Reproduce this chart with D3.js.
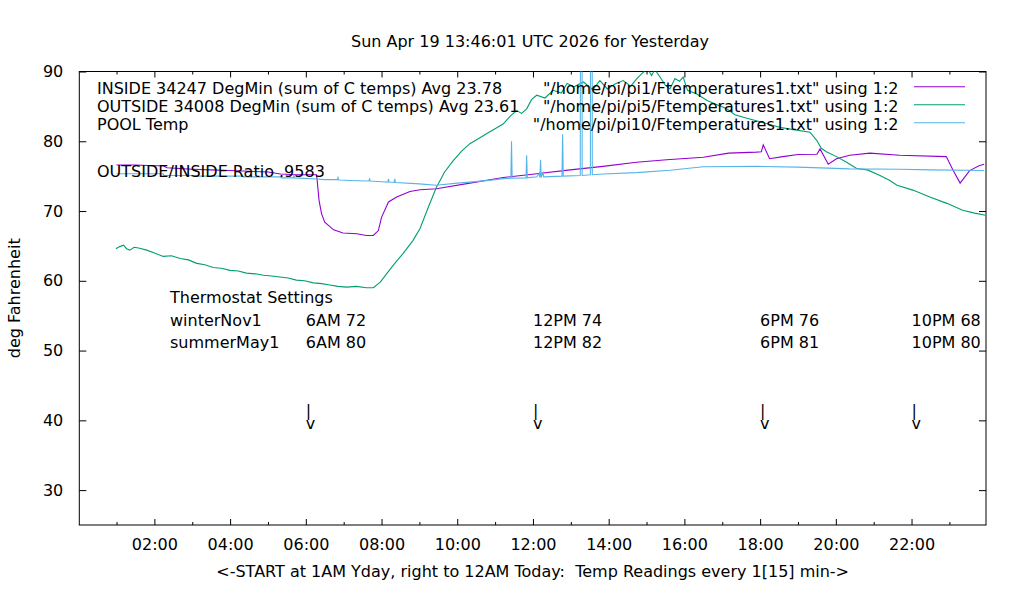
<!DOCTYPE html>
<html>
<head>
<meta charset="utf-8">
<script src="https://cdn.jsdelivr.net/npm/d3@7"></script>
<style>
  body { margin: 0; background: #fff; }
  svg { font-family: "DejaVu Sans", sans-serif; font-size: 16px; }
  text { white-space: pre; }
</style>
</head>
<body>
<svg width="1020" height="600"></svg>
<script>
// readings, [time of day, deg F]
const inside = [
  ["01:00", 76.6], ["01:30", 76.6], ["02:00", 76.5], ["02:14", 76.5], ["02:20", 76.2], ["03:00", 76.0],
  ["03:30", 75.9], ["04:00", 75.8], ["04:30", 75.7], ["05:00", 75.6], ["05:20", 75.3], ["05:45", 75.2],
  ["06:17", 75.2], ["06:18", 74.4], ["06:21", 71.5], ["06:25", 69.6], ["06:30", 68.4], ["06:44", 67.3],
  ["06:59", 66.85], ["07:21", 66.75], ["07:36", 66.5], ["07:47", 66.5], ["07:55", 67.2], ["08:00", 69.1],
  ["08:11", 71.3], ["08:24", 72.0], ["08:45", 72.8], ["09:01", 73.05], ["09:27", 73.2], ["10:20", 74.0],
  ["11:13", 74.8], ["12:06", 75.35], ["12:59", 75.9], ["13:51", 76.4], ["14:44", 77.0], ["15:32", 77.35],
  ["16:30", 77.7], ["17:10", 78.3], ["17:54", 78.45], ["18:02", 78.5], ["18:05", 79.5], ["18:15", 77.5],
  ["18:36", 77.8], ["19:00", 78.1], ["19:30", 78.15], ["19:35", 78.9], ["19:48", 76.7], ["20:01", 77.5],
  ["20:22", 78.0], ["20:54", 78.3], ["21:41", 78.0], ["22:55", 77.8], ["23:06", 75.8], ["23:17", 74.0],
  ["23:32", 75.8], ["23:47", 76.5], ["23:55", 76.7]
];

const outside = [
  ["00:59", 64.6], ["01:05", 64.9], ["01:11", 65.1], ["01:16", 64.6], ["01:21", 64.4], ["01:28", 64.8],
  ["01:35", 64.7], ["01:48", 64.4], ["02:00", 64.0], ["02:14", 63.5], ["02:27", 63.6], ["02:41", 63.2],
  ["02:54", 63.0], ["03:07", 62.5], ["03:20", 62.3], ["03:33", 61.9], ["03:46", 61.8], ["04:00", 61.5],
  ["04:13", 61.4], ["04:26", 61.1], ["04:40", 61.0], ["04:53", 60.8], ["05:06", 60.7], ["05:19", 60.55],
  ["05:32", 60.4], ["05:45", 60.1], ["05:58", 60.0], ["06:12", 59.7], ["06:25", 59.6], ["06:38", 59.4],
  ["06:51", 59.2], ["07:05", 59.1], ["07:20", 59.2], ["07:36", 59.0], ["07:47", 59.0], ["07:58", 59.8],
  ["08:08", 61.0], ["08:20", 62.4], ["08:34", 63.9], ["08:50", 65.8], ["09:01", 67.5], ["09:14", 70.5],
  ["09:27", 73.4], ["09:40", 75.6], ["09:54", 77.25], ["10:07", 78.6], ["10:20", 79.65], ["10:34", 80.4],
  ["10:47", 81.1], ["11:00", 81.8], ["11:13", 82.5], ["11:24", 83.6], ["11:34", 84.4], ["11:42", 84.0],
  ["11:50", 84.65], ["11:58", 86.0], ["12:06", 86.6], ["12:19", 86.2], ["12:32", 87.3], ["12:45", 86.9],
  ["12:54", 88.3], ["13:05", 87.8], ["13:20", 88.5], ["13:35", 87.4], ["13:46", 88.7], ["13:58", 87.5],
  ["14:10", 88.2], ["14:23", 88.7], ["14:35", 87.9], ["14:45", 89.0], ["14:55", 89.9], ["15:02", 90.4],
  ["15:08", 89.4], ["15:13", 90.3], ["15:20", 89.4], ["15:30", 88.0], ["15:37", 87.5], ["15:45", 89.0],
  ["15:52", 88.6], ["15:58", 89.2], ["16:05", 87.3], ["16:19", 86.8], ["16:36", 85.85], ["16:50", 85.3],
  ["17:07", 84.65], ["17:20", 83.8], ["17:39", 83.3], ["18:00", 82.8], ["18:31", 82.0], ["18:50", 81.7],
  ["19:19", 81.3], ["19:30", 80.1], ["19:37", 79.0], ["19:45", 78.5], ["20:01", 77.8], ["20:17", 77.0],
  ["20:33", 76.1], ["20:50", 75.9], ["21:10", 75.1], ["21:25", 74.4], ["21:37", 73.7], ["22:02", 73.0],
  ["22:29", 72.0], ["22:56", 71.1], ["23:21", 70.1], ["23:40", 69.7], ["23:57", 69.4]
];

const pool = [
  ["01:00", 75.35], ["02:14", 75.35], ["02:15", 75.1], ["03:10", 75.1], ["03:11", 75.0], ["04:20", 75.0],
  ["04:21", 74.9], ["05:20", 74.9], ["05:21", 74.75], ["05:40", 74.75], ["05:41", 75.1], ["05:42", 74.75],
  ["06:18", 74.6], ["06:30", 74.5], ["06:50", 74.5], ["06:51", 74.8], ["06:52", 74.45], ["07:20", 74.35],
  ["07:40", 74.3], ["07:41", 74.7], ["07:42", 74.3], ["08:00", 74.2], ["08:10", 74.15], ["08:11", 74.6],
  ["08:12", 74.15], ["08:20", 74.1], ["08:21", 74.6], ["08:22", 74.1], ["09:00", 73.9], ["09:27", 73.7],
  ["10:00", 74.0], ["10:20", 74.15], ["10:50", 74.4], ["11:13", 74.65], ["11:25", 74.7], ["11:26", 80.0],
  ["11:27", 74.7], ["11:49", 74.75], ["11:50", 78.0], ["11:51", 74.75], ["12:06", 74.9], ["12:10", 75.4],
  ["12:11", 74.8], ["12:12", 77.35], ["12:13", 74.8], ["12:16", 75.5], ["12:17", 74.9], ["12:46", 75.0],
  ["12:47", 81.0], ["12:48", 75.0], ["13:15", 75.1], ["13:16", 185], ["13:17", 185], ["13:18", 75.1],
  ["13:31", 75.2], ["13:32", 185], ["13:33", 185], ["13:34", 75.2], ["13:51", 75.3], ["14:44", 75.5],
  ["15:37", 75.85], ["16:30", 76.35], ["17:54", 76.4], ["19:00", 76.3], ["20:22", 76.05], ["21:41", 76.0],
  ["22:30", 75.9], ["23:55", 75.8]
];

const seriesNames = [
  "\"/home/pi/pi1/Ftemperatures1.txt\" using 1:2",
  "\"/home/pi/pi5/Ftemperatures1.txt\" using 1:2",
  "\"/home/pi/pi10/Ftemperatures1.txt\" using 1:2"
];
const seriesColors = ["#9400d3", "#009e73", "#56b4e9"];
const noteLines = [
  "INSIDE 34247 DegMin (sum of C temps) Avg 23.78",
  "OUTSIDE 34008 DegMin (sum of C temps) Avg 23.61",
  "POOL Temp"
];
const ratioNote = "OUTSIDE/INSIDE Ratio .9583";

const yTicks = [30, 40, 50, 60, 70, 80, 90];
const setTimes = ["06:00", "12:00", "18:00", "22:00"];
const winterSet = ["6AM 72", "12PM 74", "6PM 76", "10PM 68"];
const summerSet = ["6AM 80", "12PM 82", "6PM 81", "10PM 80"];

const title = "Sun Apr 19 13:46:01 UTC 2026 for Yesterday";
const xLabel = "<-START at 1AM Yday, right to 12AM Today:  Temp Readings every 1[15] min->";
const yLabel = "deg Fahrenheit";

const svg = d3.select("svg");
const margin = { top: 71.5, left: 79.3, right: 34, bottom: 75 };
const innerWidth = 1020 - margin.left - margin.right;
const innerHeight = 600 - margin.top - margin.bottom;

const parseTime = d3.utcParse("%Y-%m-%d %H:%M");
const t = s => parseTime("2026-04-18 " + s);

const x = d3.scaleUtc()
  .domain([t("00:01"), t("23:58")])
  .range([0, innerWidth]);
const y = d3.scaleLinear()
  .domain([25, 90])
  .range([innerHeight, 0]);

const g = svg.append("g")
  .attr("transform", `translate(${margin.left},${margin.top})`);

g.append("clipPath").attr("id", "plot-clip")
  .append("rect")
  .attr("width", innerWidth)
  .attr("height", innerHeight);

// axes, ticks pointing inward and mirrored on top/right
const majorHours = d3.utcHour.every(2).range(t("01:00"), t("23:58"));
const oddHours = d3.utcHours(t("00:01"), t("23:58")).filter(d => d.getUTCHours() % 2 === 1);

g.append("g")
  .attr("transform", `translate(0,${innerHeight})`)
  .call(d3.axisBottom(x).tickValues(majorHours).tickSize(-6).tickPadding(14).tickFormat(d3.utcFormat("%H:%M")));
g.append("g")
  .attr("transform", `translate(0,${innerHeight})`)
  .call(d3.axisBottom(x).tickValues(oddHours).tickSize(-3).tickFormat(""));
g.append("g")
  .call(d3.axisTop(x).tickValues(majorHours).tickSize(-6).tickFormat(""));
g.append("g")
  .call(d3.axisTop(x).tickValues(oddHours).tickSize(-3).tickFormat(""));
g.append("g")
  .call(d3.axisLeft(y).tickValues(yTicks).tickSize(-7).tickPadding(16));
g.append("g")
  .attr("transform", `translate(${innerWidth},0)`)
  .call(d3.axisRight(y).tickValues(yTicks).tickSize(-7).tickFormat(""));

g.selectAll(".domain").remove();
g.selectAll(".tick line").attr("stroke", "#000");
g.selectAll(".tick text")
  .attr("fill", "#000")
  .style("font-family", "DejaVu Sans")
  .style("font-size", "16px");

g.append("rect")
  .attr("width", innerWidth)
  .attr("height", innerHeight)
  .attr("fill", "none")
  .attr("stroke", "#000")
  .attr("stroke-width", 1);

// data lines
const line = d3.line()
  .x(d => x(t(d[0])))
  .y(d => y(d[1]));

const plot = g.append("g").attr("clip-path", "url(#plot-clip)");
[inside, outside, pool].forEach((series, i) => {
  plot.append("path")
    .datum(series)
    .attr("fill", "none")
    .attr("stroke", seriesColors[i])
    .attr("stroke-width", 1.1)
    .attr("d", line);
});

// key
const key = svg.append("g");
seriesNames.forEach((name, i) => {
  const yy = 94.3 + i * 18;
  key.append("text")
    .attr("x", 898.5)
    .attr("y", yy)
    .attr("text-anchor", "end")
    .text(name);
  key.append("line")
    .attr("x1", 914).attr("x2", 965)
    .attr("y1", yy - 7.5).attr("y2", yy - 7.5)
    .attr("stroke", seriesColors[i])
    .attr("stroke-width", 1.1);
});
noteLines.forEach((s, i) => {
  key.append("text")
    .attr("x", 97)
    .attr("y", 94.3 + i * 18)
    .text(s);
});
key.append("text").attr("x", 97).attr("y", 176.7).text(ratioNote);

// thermostat notes
const notes = svg.append("g");
notes.append("text").attr("x", 170).attr("y", 302.7).text("Thermostat Settings");
notes.append("text").attr("x", 170).attr("y", 325.7).text("winterNov1");
notes.append("text").attr("x", 170).attr("y", 347.7).text("summerMay1");
setTimes.forEach((s, i) => {
  const xx = margin.left + x(t(s));
  notes.append("text").attr("x", xx).attr("y", 325.7).text(winterSet[i]);
  notes.append("text").attr("x", xx).attr("y", 347.7).text(summerSet[i]);
  notes.append("text").attr("x", xx).attr("y", 416).text("|");
  notes.append("text").attr("x", xx).attr("y", 429).text("v");
});

// titles
svg.append("text")
  .attr("x", 530).attr("y", 47.3)
  .attr("text-anchor", "middle")
  .text(title);
svg.append("text")
  .attr("x", margin.left + innerWidth / 2).attr("y", 577)
  .attr("text-anchor", "middle")
  .text(xLabel);
svg.append("text")
  .attr("transform", `translate(20,${margin.top + innerHeight / 2}) rotate(-90)`)
  .attr("text-anchor", "middle")
  .text(yLabel);
</script>
</body>
</html>
